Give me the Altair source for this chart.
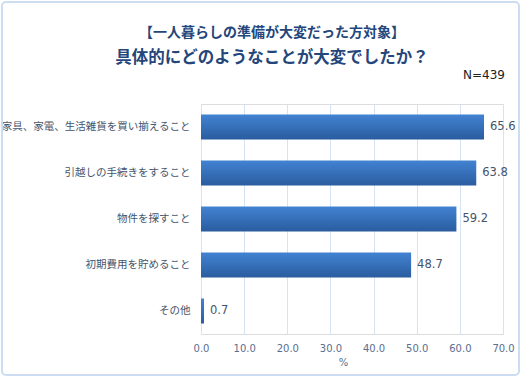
import altair as alt
import pandas as pd

categories = ["家具、家電、生活雑貨を買い揃えること", "引越しの手続きをすること", "物件を探すこと", "初期費用を貯めること", "その他"]
values = [65.6, 63.8, 59.2, 48.7, 0.7]
ticks = [0, 10, 20, 30, 40, 50, 60, 70]
title1 = "【一人暮らしの準備が大変だった方対象】"
title2 = "具体的にどのようなことが大変でしたか？"
note = "N=439"

df = pd.DataFrame({"cat": categories, "val": values})
one = pd.DataFrame({"k": [0]})

JP = "Noto Sans CJK JP"

base = alt.Chart(df)
deco = alt.Chart(one)

grad = alt.Gradient(
    gradient="linear",
    stops=[alt.GradientStop(color="#4283D2", offset=0), alt.GradientStop(color="#2A5C9F", offset=1)],
    x1=0, x2=0, y1=0, y2=1,
)

bars = base.mark_bar(fill=grad, size=25).encode(
    x=alt.X("val:Q", scale=alt.Scale(domain=[0, 70], nice=False),
            axis=alt.Axis(values=ticks, format=".1f", title="%", grid=True, gridColor="#D6E3F3",
                          domain=False, ticks=False, labelPadding=9, labelFont="DejaVu Sans",
                          labelFontSize=10, labelColor="#5A6E8F", labelFlush=False,
                          titleFont="DejaVu Sans", titleX=142,
                          titleFontSize=10, titleColor="#5A6E8F", titleFontWeight="normal",
                          titlePadding=4)),
    y=alt.Y("cat:N", sort=categories,
            axis=alt.Axis(title=None, domain=False, ticks=False, labelPadding=11, labelFont=JP,
                          labelFontSize=10.5, labelColor="#44546A", labelLimit=0)),
)

labels = base.mark_text(align="left", dx=6, font="DejaVu Sans", fontSize=11.5, color="#44546A").encode(
    x="val:Q", y=alt.Y("cat:N", sort=categories), text=alt.Text("val:Q", format=".1f")
)

ntext = deco.mark_text(align="right", baseline="middle", font="DejaVu Sans", fontSize=12,
                       fontWeight=400, color="#222222").encode(
    x=alt.value(304), y=alt.value(-29), text=alt.value(note)
)

t1 = deco.mark_text(align="center", baseline="middle", font=JP, fontSize=14, fontWeight="bold",
                    color="#24467A").encode(x=alt.value(71), y=alt.value(-71), text=alt.value(title1))
t2 = deco.mark_text(align="center", baseline="middle", font=JP, fontSize=16.5, fontWeight="bold",
                    color="#24467A").encode(x=alt.value(71), y=alt.value(-46), text=alt.value(title2))

frame = deco.mark_rect(fill=None, stroke="#CCDDF2", strokeWidth=2, cornerRadius=4).encode(
    x=alt.value(-199), x2=alt.value(318), y=alt.value(-102), y2=alt.value(271)
)

chart = alt.layer(frame, bars, labels, ntext, t1, t2).properties(
    width=302, height=230,
    padding={"left": 201, "top": 104, "right": 18, "bottom": 43},
    autosize=alt.AutoSizeParams(type="none"),
).configure_view(stroke=None).configure(background="white")

chart.save("out.html", embed_options={"renderer": "svg", "actions": False})
